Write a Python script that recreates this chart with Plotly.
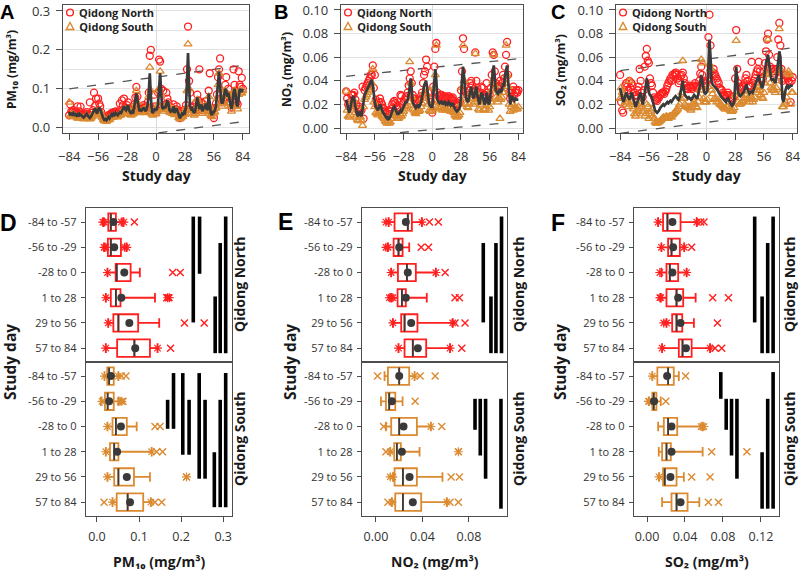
import plotly.graph_objects as go

FONT = "Open Sans"
RED = "#ff1f1f"
ORANGE = "#db8a30"
DARK = "#3a3a3a"
FRAME = "#4d4d4d"

DAYS = list(range(-84, 85))

# ---------------- Panel A: PM10 daily values (µg/m³) ----------------
PM10_NORTH = [32, 60, 42, 40, 45, 38, 42, 36, 55, 34, 42, 54, 36, 33,
              28, 30, 36, 40, 34, 30, 65, 32, 38, 45, 90, 56, 75, 40,
              75, 62, 55, 40, 30, 26, 22, 25, 22, 26, 32, 28, 34, 38,
              35, 40, 36, 42, 38, 36, 42, 62, 40, 70, 58, 75, 52, 50,
              58, 65, 50, 42, 40, 48, 45, 60, 78, 105, 80, 55, 45, 50,
              48, 52, 58, 50, 45, 55, 65, 90, 185, 200, 50, 45, 85, 55,
              40, 45, 90, 175, 170, 100, 55, 95, 58, 52, 90, 75, 65, 48,
              45, 52, 44, 60, 42, 48, 55, 45, 35, 25, 30, 40, 36, 45,
              40, 58, 150, 260, 120, 90, 52, 55, 45, 40, 48, 65, 85, 70,
              150, 55, 65, 45, 60, 52, 68, 55, 48, 95, 140, 42, 35, 45,
              25, 50, 62, 85, 130, 150, 178, 75, 65, 72, 90, 110, 130, 85,
              100, 80, 65, 52, 70, 150, 110, 95, 65, 60, 145, 110, 105, 128,
              100]
PM10_SOUTH = [65, 30, 33, 28, 34, 30, 30, 27, 24, 25, 30, 28, 25, 24,
              22, 24, 28, 30, 27, 23, 22, 24, 28, 34, 38, 42, 36, 30,
              40, 44, 42, 34, 26, 20, 17, 18, 16, 19, 24, 20, 25, 28,
              26, 30, 28, 32, 30, 27, 32, 34, 32, 36, 44, 48, 42, 40,
              46, 50, 40, 34, 32, 36, 35, 50, 62, 95, 65, 45, 38, 42,
              40, 44, 46, 42, 38, 45, 55, 80, 155, 95, 35, 32, 40, 45,
              35, 42, 60, 100, 145, 85, 48, 42, 50, 46, 48, 62, 55, 40,
              38, 42, 36, 48, 33, 40, 44, 38, 26, 22, 25, 30, 28, 34,
              34, 50, 95, 215, 100, 45, 45, 45, 36, 32, 40, 52, 72, 55,
              60, 46, 55, 36, 48, 42, 56, 45, 40, 80, 55, 32, 28, 36,
              36, 40, 50, 75, 110, 140, 100, 62, 55, 62, 80, 95, 85, 72,
              85, 62, 55, 42, 58, 85, 95, 80, 55, 48, 85, 95, 90, 88,
              95]
PM10_MEAN = [40, 32, 36, 34, 38, 33, 35, 31, 34, 29, 36, 33, 30, 28,
             26, 29, 33, 36, 31, 27, 25, 28, 34, 40, 46, 50, 42, 36,
             45, 52, 48, 38, 30, 24, 20, 22, 19, 23, 28, 24, 30, 34,
             31, 36, 33, 38, 35, 32, 37, 40, 36, 42, 50, 55, 48, 45,
             52, 58, 44, 38, 36, 42, 40, 55, 70, 88, 72, 50, 42, 46,
             44, 48, 52, 46, 42, 50, 60, 90, 140, 80, 42, 38, 45, 50,
             44, 48, 62, 118, 140, 90, 52, 48, 55, 50, 60, 70, 62, 45,
             42, 48, 40, 55, 38, 45, 50, 42, 30, 25, 28, 35, 32, 40,
             38, 55, 120, 192, 110, 55, 48, 50, 42, 38, 44, 60, 78, 62,
             48, 52, 60, 42, 55, 48, 62, 50, 45, 88, 60, 38, 32, 40,
             40, 45, 55, 80, 120, 145, 110, 70, 62, 68, 85, 100, 95, 80,
             90, 70, 60, 48, 62, 90, 100, 85, 60, 55, 90, 100, 95, 92,
             100]
PM10_UPPER = [0.100, 0.160]    # dashed band at day -84 and day 84 (mg/m³)
PM10_LOWER = [-0.0434, 0.0154]

# ---------------- Panel B: NO2 daily values (µg/m³) ----------------
NO2_NORTH = [31, 25, 20, 18, 22, 28, 28, 28, 30, 24, 20, 16, 14, 18,
             16, 15, 35, 8, 32, 34, 36, 38, 40, 42, 45, 45, 53, 34,
             45, 24, 20, 19, 22, 25, 22, 20, 17, 16, 14, 13, 12, 15,
             12, 14, 16, 20, 22, 23, 21, 19, 17, 16, 18, 28, 27, 20,
             22, 24, 26, 27, 30, 36, 42, 48, 38, 28, 25, 23, 22, 22,
             24, 23, 24, 27, 30, 38, 45, 48, 58, 52, 30, 25, 24, 22,
             13, 35, 52, 67, 72, 30, 27, 26, 28, 28, 25, 26, 27, 25,
             26, 25, 27, 26, 24, 25, 26, 23, 21, 20, 19, 20, 21, 23,
             32, 48, 76, 67, 36, 30, 28, 28, 32, 38, 40, 36, 31, 33,
             64, 40, 34, 28, 25, 30, 35, 34, 28, 25, 28, 38, 30, 25,
             28, 34, 45, 64, 62, 48, 38, 35, 34, 36, 40, 35, 38, 45,
             42, 52, 62, 73, 45, 30, 25, 30, 32, 35, 28, 30, 32, 30,
             32]
NO2_SOUTH = [31, 15, 10, 9, 11, 16, 22, 24, 19, 13, 9, 7, 6, 10,
             9, 6, 2, 18, 24, 26, 28, 30, 32, 34, 35, 38, 50, 22,
             18, 13, 12, 11, 13, 15, 14, 10, 9, 8, 6, 5, 4, 6,
             4, 5, 8, 11, 13, 14, 12, 10, 8, 8, 9, 11, 10, 12,
             14, 16, 18, 18, 19, 22, 56, 38, 26, 16, 15, 13, 12, 14,
             16, 14, 15, 18, 21, 25, 30, 30, 34, 28, 20, 15, 14, 14,
             16, 22, 34, 45, 70, 18, 17, 16, 17, 18, 15, 16, 17, 15,
             16, 15, 17, 16, 14, 15, 16, 13, 11, 10, 9, 10, 11, 13,
             20, 34, 70, 40, 25, 20, 18, 17, 20, 25, 30, 25, 20, 22,
             63, 30, 22, 16, 15, 20, 25, 22, 16, 15, 16, 24, 20, 15,
             18, 22, 32, 40, 62, 36, 26, 24, 22, 25, 8, 24, 26, 30,
             30, 38, 70, 45, 35, 20, 14, 18, 20, 15, 16, 18, 16, 16,
             18]
NO2_MEAN = [24, 20, 15, 13, 16, 22, 26, 27, 24, 18, 14, 11, 10, 14,
            12, 10, 16, 24, 28, 30, 32, 34, 36, 38, 40, 41, 36, 28,
            22, 18, 16, 15, 17, 20, 18, 15, 13, 12, 10, 9, 8, 10,
            8, 9, 12, 15, 17, 18, 16, 14, 12, 12, 13, 15, 14, 16,
            18, 20, 22, 22, 24, 28, 35, 42, 32, 22, 20, 18, 17, 18,
            20, 18, 19, 22, 25, 30, 36, 38, 40, 34, 25, 20, 19, 18,
            18, 28, 42, 50, 40, 24, 22, 21, 22, 23, 20, 21, 22, 20,
            21, 20, 22, 21, 19, 20, 21, 18, 16, 15, 14, 15, 16, 18,
            26, 40, 52, 44, 30, 25, 23, 22, 26, 30, 35, 30, 25, 27,
            33, 35, 28, 22, 20, 25, 30, 28, 22, 20, 22, 30, 25, 20,
            22, 28, 38, 48, 53, 42, 32, 30, 29, 31, 33, 30, 32, 38,
            35, 45, 50, 53, 40, 25, 20, 25, 27, 24, 23, 25, 24, 24,
            24]
NO2_UPPER = [0.0438, 0.0587]
NO2_LOWER = [-0.0080, 0.0053]

# ---------------- Panel C: SO2 daily values (µg/m³) ----------------
SO2_NORTH = [45, 22, 15, 13, 30, 36, 38, 35, 32, 40, 34, 38, 36, 30,
             27, 25, 28, 32, 35, 50, 40, 30, 26, 32, 52, 61, 67, 57,
             55, 42, 38, 36, 30, 26, 24, 24, 23, 25, 26, 28, 29, 30,
             30, 29, 31, 33, 36, 38, 40, 42, 40, 45, 44, 46, 47, 45,
             42, 38, 40, 44, 45, 47, 42, 38, 36, 34, 33, 35, 36, 34,
             33, 35, 36, 38, 35, 34, 36, 40, 46, 52, 45, 40, 38, 36,
             38, 40, 77, 96, 70, 48, 45, 50, 46, 44, 42, 40, 38, 34,
             33, 32, 30, 28, 27, 26, 28, 30, 28, 26, 25, 24, 25, 27,
             42, 83, 50, 38, 35, 33, 34, 35, 36, 38, 42, 45, 40, 36,
             35, 36, 56, 38, 40, 42, 45, 48, 50, 56, 48, 42, 40, 42,
             48, 55, 65, 75, 80, 62, 52, 50, 48, 50, 48, 46, 50, 60,
             75, 89, 70, 50, 40, 45, 42, 45, 44, 42, 40, 38, 22, 40,
             43]
SO2_SOUTH = [25, 34, 30, 28, 20, 22, 24, 22, 18, 40, 20, 22, 18, 16,
             12, 10, 12, 14, 16, 18, 20, 18, 14, 16, 10, 12, 20, 18,
             8, 12, 14, 16, 10, 8, 5, 4, 4, 5, 5, 6, 7, 8,
             9, 8, 9, 10, 9, 8, 10, 10, 9, 11, 12, 13, 14, 15,
             16, 18, 20, 25, 30, 57, 25, 20, 19, 18, 17, 18, 16, 15,
             18, 20, 22, 20, 18, 17, 22, 26, 32, 58, 55, 25, 22, 22,
             22, 24, 35, 54, 50, 32, 29, 24, 25, 24, 22, 24, 22, 20,
             20, 19, 18, 17, 16, 16, 18, 18, 16, 15, 14, 14, 15, 17,
             28, 74, 30, 22, 20, 20, 21, 22, 23, 25, 28, 28, 25, 24,
             22, 24, 25, 22, 24, 26, 30, 32, 34, 35, 32, 28, 26, 25,
             30, 38, 45, 48, 75, 46, 38, 34, 32, 34, 32, 30, 34, 40,
             48, 84, 50, 30, 18, 18, 20, 22, 26, 46, 48, 45, 20, 30,
             30]
SO2_MEAN = [34, 30, 25, 22, 24, 28, 30, 28, 25, 24, 26, 30, 28, 24,
            20, 18, 20, 22, 25, 28, 30, 25, 20, 24, 30, 36, 42, 38,
            30, 28, 27, 26, 22, 18, 15, 14, 13, 14, 15, 17, 18, 19,
            20, 19, 20, 21, 22, 21, 22, 23, 22, 24, 25, 26, 27, 26,
            25, 24, 26, 30, 35, 40, 33, 28, 27, 26, 25, 26, 25, 24,
            25, 27, 28, 27, 26, 25, 28, 32, 38, 45, 40, 32, 30, 29,
            30, 32, 55, 75, 60, 40, 37, 36, 35, 34, 33, 32, 30, 28,
            27, 26, 25, 24, 23, 22, 24, 25, 23, 21, 20, 19, 20, 22,
            35, 52, 40, 30, 28, 27, 28, 29, 30, 32, 35, 37, 33, 30,
            29, 30, 31, 30, 32, 35, 38, 40, 42, 45, 40, 36, 34, 35,
            40, 48, 55, 60, 62, 55, 45, 42, 40, 42, 40, 38, 42, 50,
            58, 65, 60, 40, 25, 22, 28, 32, 35, 36, 34, 35, 36, 36,
            36]
SO2_UPPER = [0.0486, 0.0680]
SO2_LOWER = [-0.0045, 0.0141]

for arr in (PM10_NORTH, PM10_SOUTH, PM10_MEAN, NO2_NORTH, NO2_SOUTH, NO2_MEAN,
            SO2_NORTH, SO2_SOUTH, SO2_MEAN):
    assert len(arr) == len(DAYS), len(arr)

# ---------------- Box panels (mg/m³) ----------------
ROW_LABELS = ["-84 to -57", "-56 to -29", "-28 to 0", "1 to 28", "29 to 56", "57 to 84"]
# each row: [lower whisker, Q1, median, Q3, upper whisker, mean]
PM10_NORTH_BOX = [[0.015, 0.027, 0.033, 0.045, 0.062, 0.039],
                  [0.017, 0.026, 0.033, 0.057, 0.070, 0.041],
                  [0.025, 0.0445, 0.047, 0.080, 0.102, 0.065],
                  [0.021, 0.033, 0.045, 0.056, 0.138, 0.058],
                  [0.027, 0.039, 0.051, 0.098, 0.148, 0.077],
                  [0.021, 0.048, 0.089, 0.126, 0.144, 0.091]]
PM10_NORTH_STARS = [[0.014, 0.018, 0.058, 0.064], [0.017, 0.021, 0.066, 0.071], [0.025],
                    [0.021, 0.168, 0.172], [0.027], [0.021, 0.144]]
PM10_NORTH_CROSSES = [[0.089], [], [0.180, 0.198], [0.166, 0.170], [0.208, 0.255], [0.175]]
PM10_SOUTH_BOX = [[0.018, 0.0245, 0.029, 0.040, 0.051, 0.033],
                  [0.0095, 0.019, 0.0255, 0.040, 0.051, 0.029],
                  [0.025, 0.037, 0.045, 0.071, 0.0945, 0.057],
                  [0.021, 0.031, 0.041, 0.051, 0.130, 0.048],
                  [0.025, 0.041, 0.051, 0.088, 0.126, 0.071],
                  [0.037, 0.047, 0.073, 0.110, 0.128, 0.0786]]
PM10_SOUTH_STARS = [[0.018, 0.051], [0.012, 0.055, 0.059], [0.025], [0.021, 0.130],
                    [0.025, 0.213], [0.037, 0.128]]
PM10_SOUTH_CROSSES = [[0.058, 0.069], [0.062], [0.138, 0.150], [0.142, 0.156], [0.213],
                      [0.017, 0.138, 0.154]]

NO2_NORTH_BOX = [[0.0109, 0.016, 0.0274, 0.0309, 0.0395, 0.0257],
                 [0.0103, 0.0152, 0.0194, 0.0229, 0.0286, 0.020],
                 [0.0131, 0.0189, 0.0266, 0.0343, 0.0515, 0.0274],
                 [0.0131, 0.0186, 0.0223, 0.0257, 0.0437, 0.0257],
                 [0.0146, 0.0217, 0.0246, 0.0357, 0.066, 0.0303],
                 [0.0194, 0.0246, 0.0317, 0.0432, 0.0637, 0.036]]
NO2_NORTH_STARS = [[0.0086, 0.0109, 0.0395], [0.0086, 0.0103], [0.0131, 0.0515],
                   [0.0115, 0.0131, 0.0145], [0.0146, 0.066], [0.0194, 0.0637]]
NO2_NORTH_CROSSES = [[0.046, 0.0537], [0.0389, 0.0452], [0.0595], [0.068, 0.0718],
                     [0.068, 0.0766], [0.0738]]
NO2_SOUTH_BOX = [[0.0074, 0.0103, 0.020, 0.0286, 0.0332, 0.020],
                 [0.0043, 0.0086, 0.0114, 0.0166, 0.0229, 0.0137],
                 [0.0086, 0.0131, 0.020, 0.0352, 0.0472, 0.0237],
                 [0.0123, 0.0157, 0.018, 0.0214, 0.0375, 0.0223],
                 [0.0146, 0.016, 0.0232, 0.0352, 0.0572, 0.0289],
                 [0.0137, 0.0166, 0.0232, 0.0389, 0.0609, 0.0317]]
NO2_SOUTH_STARS = [[0.0332], [], [0.0472], [0.0123, 0.0709], [0.0123, 0.0146], [0.0137, 0.0609]]
NO2_SOUTH_CROSSES = [[0.0014, 0.038, 0.0509], [0.0337], [0.0066, 0.0566], [0.0086, 0.0709],
                     [0.0646, 0.0718], [0.0103, 0.0637, 0.0709]]

SO2_NORTH_BOX = [[0.0117, 0.0169, 0.0215, 0.0353, 0.0523, 0.0268],
                 [0.0152, 0.0222, 0.0258, 0.0346, 0.0392, 0.0275],
                 [0.0152, 0.0205, 0.024, 0.0328, 0.0417, 0.0268],
                 [0.0145, 0.0205, 0.0311, 0.0381, 0.0512, 0.0328],
                 [0.0205, 0.0265, 0.0311, 0.0371, 0.0494, 0.0353],
                 [0.0159, 0.0335, 0.0374, 0.047, 0.0664, 0.041]]
SO2_NORTH_STARS = [[0.0117, 0.0523], [0.0152, 0.0392], [0.0135, 0.0417], [0.0135, 0.0145],
                   [0.0177, 0.0205], [0.0159, 0.0664]]
SO2_NORTH_CROSSES = [[0.0565, 0.060], [0.047], [], [0.0692, 0.0858], [0.0742], [0.0717, 0.0787]]
SO2_SOUTH_BOX = [[0.0056, 0.0109, 0.0222, 0.0282, 0.0335, 0.0212],
                 [0.0021, 0.0056, 0.0071, 0.0099, 0.0145, 0.0074],
                 [0.0117, 0.0177, 0.0222, 0.0318, 0.0586, 0.0258],
                 [0.0124, 0.0159, 0.0205, 0.0251, 0.0586, 0.0258],
                 [0.0127, 0.0169, 0.0187, 0.0311, 0.0388, 0.0247],
                 [0.0159, 0.0258, 0.0311, 0.0427, 0.0551, 0.0353]]
SO2_SOUTH_STARS = [[0.0056], [0.0015, 0.0025], [0.057, 0.0586, 0.060], [], [0.0127], []]
SO2_SOUTH_CROSSES = [[0.0406], [0.0198], [], [0.0681, 0.1052], [0.047, 0.0664], [0.0646, 0.0752]]

# significance bars: [x position, start row, end row]
PM10_NORTH_BARS = [[0.229, -0.22, 3.98], [0.244, -0.22, 2.05], [0.281, 2.95, 5.2],
                   [0.293, 0.83, 5.2], [0.306, -0.22, 5.2]]
PM10_SOUTH_BARS = [[0.168, 0.94, 2.09], [0.182, -0.12, 2.09], [0.204, -0.12, 3.12],
                   [0.219, 0.94, 3.12], [0.243, -0.12, 4.07], [0.257, 0.94, 4.07],
                   [0.279, 3.02, 5.2], [0.293, 0.94, 5.2], [0.306, -0.12, 5.2]]
NO2_NORTH_BARS = [[0.0923, 0.83, 3.98], [0.0989, 2.95, 5.2], [0.1032, 0.83, 5.2], [0.108, -0.22, 5.2]]
NO2_SOUTH_BARS = [[0.0852, 0.9, 2.13], [0.0897, 0.9, 3.15], [0.0943, 0.9, 4.07], [0.1075, 0.9, 5.26]]
SO2_NORTH_BARS = [[0.1134, -0.22, 3.98], [0.1212, 2.95, 5.2], [0.1271, 0.83, 5.2], [0.1328, -0.22, 5.2]]
SO2_SOUTH_BARS = [[0.0777, -0.16, 0.9], [0.0834, 0.9, 2.13], [0.089, 0.9, 3.15], [0.0947, 0.9, 4.07],
                  [0.1212, 3.02, 5.26], [0.1271, 0.9, 5.26], [0.1328, -0.16, 5.26]]

# ---------------- helpers ----------------
W, H = 800, 574


def dx(a, b):
    return [a / W, b / W]


def dy(top, bottom):
    return [1 - bottom / H, 1 - top / H]


def ug(vals):
    return [v / 1000 for v in vals]


fig = go.Figure()


def add_top(k, north, south, mean, upper, lower):
    xa = "x" if k == 1 else f"x{k}"
    ya = "y" if k == 1 else f"y{k}"
    fig.add_trace(go.Scatter(x=[-84, 84], y=upper, mode="lines", xaxis=xa, yaxis=ya,
                             line=dict(color="#555555", width=1.3, dash="dash"),
                             showlegend=False, hoverinfo="skip"))
    fig.add_trace(go.Scatter(x=[-84, 84], y=lower, mode="lines", xaxis=xa, yaxis=ya,
                             line=dict(color="#555555", width=1.3, dash="dash"),
                             showlegend=False, hoverinfo="skip"))
    fig.add_trace(go.Scatter(x=DAYS, y=ug(north), mode="markers", name="Qidong North",
                             xaxis=xa, yaxis=ya, showlegend=False,
                             marker=dict(symbol="circle-open", size=7, color=RED,
                                         line=dict(width=1.3, color=RED))))
    fig.add_trace(go.Scatter(x=DAYS, y=ug(south), mode="markers", name="Qidong South",
                             xaxis=xa, yaxis=ya, showlegend=False,
                             marker=dict(symbol="triangle-up-open", size=7, color=ORANGE,
                                         line=dict(width=1.3, color=ORANGE))))
    fig.add_trace(go.Scatter(x=DAYS, y=ug(mean), mode="lines", xaxis=xa, yaxis=ya,
                             line=dict(color=DARK, width=2.7), showlegend=False))


add_top(1, PM10_NORTH, PM10_SOUTH, PM10_MEAN, PM10_UPPER, PM10_LOWER)
add_top(2, NO2_NORTH, NO2_SOUTH, NO2_MEAN, NO2_UPPER, NO2_LOWER)
add_top(3, SO2_NORTH, SO2_SOUTH, SO2_MEAN, SO2_UPPER, SO2_LOWER)


def add_box(k, stats, stars, crosses, bars, color):
    xa, ya = f"x{k}", f"y{k}"
    rows = list(range(len(stats)))
    bx, by = [], []
    for x, a, b in bars:
        bx += [x, x, None]
        by += [a, b, None]
    fig.add_trace(go.Scatter(x=bx, y=by, mode="lines", xaxis=xa, yaxis=ya,
                             line=dict(color="black", width=3.6), showlegend=False,
                             hoverinfo="skip"))
    lw = [s[0] for s in stats]
    q1 = [s[1] for s in stats]
    md = [s[2] for s in stats]
    q3 = [s[3] for s in stats]
    uw = [s[4] for s in stats]
    mn = [s[5] for s in stats]
    fig.add_trace(go.Box(y=rows, q1=q1, median=md, q3=q3, lowerfence=lw, upperfence=uw,
                         orientation="h", width=0.69, whiskerwidth=0.55,
                         line=dict(color=color, width=1.8), fillcolor="rgba(255,255,255,0)",
                         boxpoints=False, showlegend=False, xaxis=xa, yaxis=ya))
    mx, my = [], []
    for r, m in zip(rows, md):
        mx += [m, m, None]
        my += [r - 0.34, r + 0.34, None]
    fig.add_trace(go.Scatter(x=mx, y=my, mode="lines", xaxis=xa, yaxis=ya,
                             line=dict(color=DARK, width=1.8), showlegend=False))
    sx, sy = [], []
    for r, pts in zip(rows, stars):
        sx += pts
        sy += [r] * len(pts)
    fig.add_trace(go.Scatter(x=sx, y=sy, mode="markers", xaxis=xa, yaxis=ya, showlegend=False,
                             marker=dict(symbol="asterisk-open", size=7.5, color=color,
                                         line=dict(width=1.2, color=color))))
    cx, cy = [], []
    for r, pts in zip(rows, crosses):
        cx += pts
        cy += [r] * len(pts)
    fig.add_trace(go.Scatter(x=cx, y=cy, mode="markers", xaxis=xa, yaxis=ya, showlegend=False,
                             marker=dict(symbol="x-thin-open", size=7, color=color,
                                         line=dict(width=1.4, color=color))))
    fig.add_trace(go.Scatter(x=mn, y=rows, mode="markers", xaxis=xa, yaxis=ya, showlegend=False,
                             marker=dict(symbol="circle", size=8, color=DARK)))


add_box(4, PM10_NORTH_BOX, PM10_NORTH_STARS, PM10_NORTH_CROSSES, PM10_NORTH_BARS, RED)
add_box(5, PM10_SOUTH_BOX, PM10_SOUTH_STARS, PM10_SOUTH_CROSSES, PM10_SOUTH_BARS, ORANGE)
add_box(6, NO2_NORTH_BOX, NO2_NORTH_STARS, NO2_NORTH_CROSSES, NO2_NORTH_BARS, RED)
add_box(7, NO2_SOUTH_BOX, NO2_SOUTH_STARS, NO2_SOUTH_CROSSES, NO2_SOUTH_BARS, ORANGE)
add_box(8, SO2_NORTH_BOX, SO2_NORTH_STARS, SO2_NORTH_CROSSES, SO2_NORTH_BARS, RED)
add_box(9, SO2_SOUTH_BOX, SO2_SOUTH_STARS, SO2_SOUTH_CROSSES, SO2_SOUTH_BARS, ORANGE)

# ---------------- axes ----------------
BASE = dict(showline=True, mirror=True, linecolor=FRAME, linewidth=1.4, automargin=False,
            ticks="outside", ticklen=5, tickcolor=FRAME, showgrid=False, zeroline=False,
            ticklabeloverflow="allow",
            tickfont=dict(family=FONT, size=13, color="#333333"))

lay = {}
top_x = [(63, 249, [-90, 90]), (341, 523, [-89, 88.5]), (616, 797, [-88, 88.2])]
top_y = [([-0.0136, 0.3154], 0.1, ".1f", 0.05), ([-0.0042, 0.1042], 0.02, ".2f", None),
         ([-0.0042, 0.1042], 0.02, ".2f", None)]
for i in range(3):
    k = "" if i == 0 else str(i + 1)
    a, b, xr = top_x[i]
    yr, dt, fmt, minor = top_y[i]
    lay[f"xaxis{k}"] = dict(BASE, domain=dx(a, b), anchor=f"y{k}", range=xr,
                            tickvals=[-84, -56, -28, 0, 28, 56, 84], ticklen=6,
                            ticklabelstandoff=5,
                            zeroline=True, zerolinecolor="#dcdcdc", zerolinewidth=1)
    yax = dict(BASE, domain=dy(5, 133), anchor=f"x{k}", range=yr, tick0=0, dtick=dt,
               tickformat=fmt, showgrid=True, gridcolor="#e2e2e2", gridwidth=1, ticklen=6,
               ticklabelstandoff=3)
    if minor:
        yax["minor"] = dict(dtick=minor, tick0=0, showgrid=True, gridcolor="#e2e2e2", ticks="")
    lay[f"yaxis{k}"] = yax

bot = [(86, 232, [-0.026, 0.321], [0, 0.1, 0.2, 0.3], ".1f"),
       (362, 507, [-0.012, 0.1127], [0, 0.04, 0.08], ".2f"),
       (634, 779, [-0.0137, 0.139], [0, 0.04, 0.08, 0.12], ".2f")]
for j, (a, b, xr, tv, fmt) in enumerate(bot):
    kn, ks = 4 + 2 * j, 5 + 2 * j
    lay[f"xaxis{kn}"] = dict(BASE, domain=dx(a, b), anchor=f"y{kn}", range=xr,
                             showticklabels=False, ticks="")
    lay[f"xaxis{ks}"] = dict(BASE, domain=dx(a, b), anchor=f"y{ks}", range=xr, tickvals=tv,
                             tickformat=fmt, ticklen=5, ticklabelstandoff=4,
                             tickfont=dict(family=FONT, size=12.5, color="#333333"))
    for kk, (t, bt) in ((kn, (208, 362)), (ks, (362, 516))):
        lay[f"yaxis{kk}"] = dict(BASE, domain=dy(t, bt), anchor=f"x{kk}", range=[5.55, -0.56],
                                 tickvals=list(range(6)), ticktext=ROW_LABELS, ticklen=4,
                                 ticklabelstandoff=2,
                                 tickfont=dict(family=FONT, size=11, color="#333333"))

# ---------------- annotations ----------------
ann = []
shapes = []


def text(x, y, s, size, bold=True, angle=0, family=FONT, color="#1a1a1a", xanchor="center"):
    ann.append(dict(x=x / W, y=1 - y / H, xref="paper", yref="paper", text=s, showarrow=False,
                    textangle=angle, xanchor=xanchor, yanchor="middle",
                    font=dict(family=family, size=size, color=color,
                              weight="bold" if bold else "normal")))


LETTER = "Liberation Sans"
text(7, 12, "A", 20, family=LETTER, color="black")
text(281, 12, "B", 20, family=LETTER, color="black")
text(558, 12, "C", 20, family=LETTER, color="black")
text(8, 223, "D", 23, family=LETTER, color="black")
text(285, 222, "E", 23, family=LETTER, color="black")
text(558, 223, "F", 23, family=LETTER, color="black")

text(11, 70, "PM₁₀ (mg/m³)", 12, angle=-90)
text(286, 70, "NO₂ (mg/m³)", 12, angle=-90)
text(560, 70, "SO₂ (mg/m³)", 12, angle=-90)
for cx in (156, 432, 706.5):
    text(cx, 175, "Study day", 14)

for cx in (10, 290, 560):
    text(cx, 362, "Study day", 15.5, angle=-90)
text(159, 561, "PM₁₀ (mg/m³)", 14)
text(434.5, 561, "NO₂ (mg/m³)", 14)
text(706.5, 561, "SO₂ (mg/m³)", 14)

for sx in (239, 518, 789):
    text(sx, 285, "Qidong North", 14, angle=-90)
    text(sx, 439, "Qidong South", 14, angle=-90)

# legends of the three time-series panels (symbol + two-line label)
LEGEND_ITEMS = ["Qidong North", "Qidong South"]
ROW1, ROW2 = 12.5, 26.3
for mx in (70, 348, 623):
    r = 3.4
    shapes.append(dict(type="circle", xref="paper", yref="paper",
                       x0=(mx - r) / W, x1=(mx + r) / W,
                       y0=1 - (ROW1 + r) / H, y1=1 - (ROW1 - r) / H,
                       line=dict(color=RED, width=1.4)))
    path = "M {} {} L {} {} L {} {} Z".format((mx - 3.8) / W, 1 - (ROW2 + 3.2) / H,
                                            (mx + 3.8) / W, 1 - (ROW2 + 3.2) / H,
                                            mx / W, 1 - (ROW2 - 3.8) / H)
    shapes.append(dict(type="path", xref="paper", yref="paper", path=path,
                       line=dict(color=ORANGE, width=1.4)))
    text(mx + 7, (ROW1 + ROW2) / 2, "<br>".join(LEGEND_ITEMS), 11, xanchor="left",
         color="#222222")

fig.update_layout(
    width=W, height=H, margin=dict(l=0, r=0, t=0, b=0, autoexpand=False),
    paper_bgcolor="white", plot_bgcolor="white",
    showlegend=False,
    annotations=ann,
    shapes=shapes,
    **lay,
)

fig.write_html("out.html",
               config={"displayModeBar": False},
               post_script="document.body.style.margin='0px';document.body.style.overflow='hidden';")
